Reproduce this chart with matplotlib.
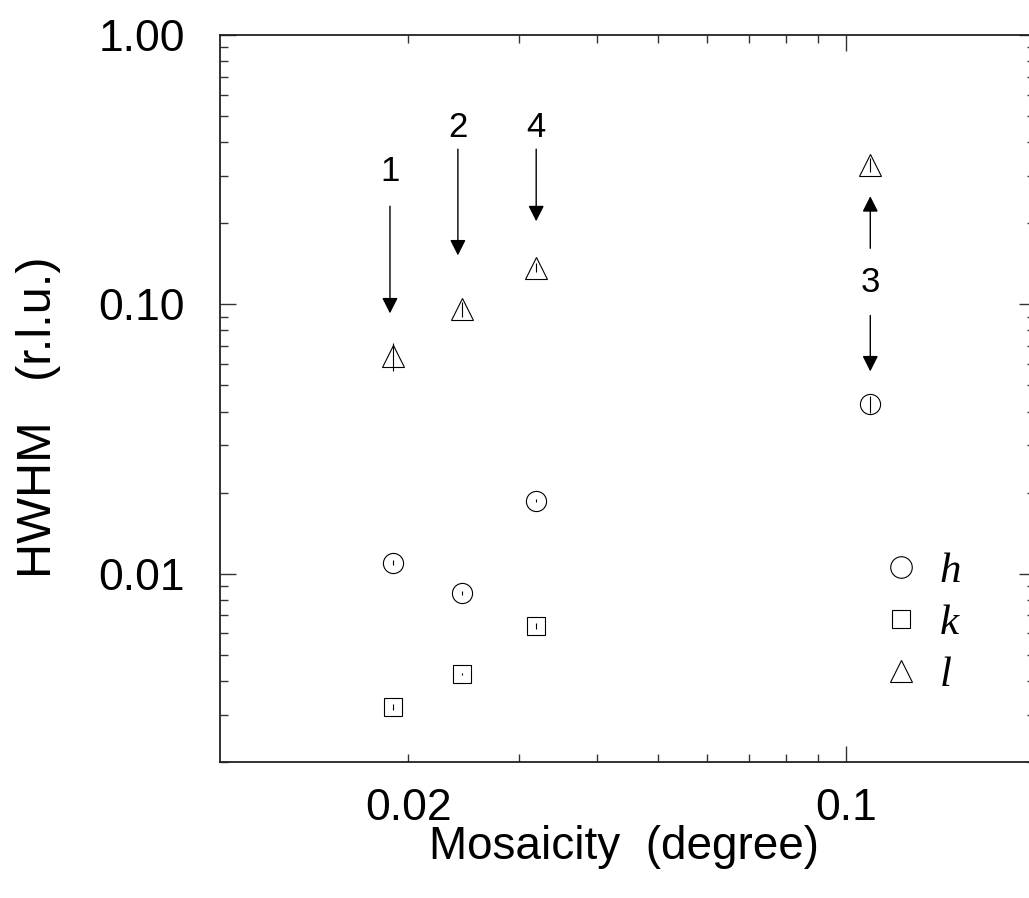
import numpy as np
import matplotlib
matplotlib.use("Agg")
import matplotlib.pyplot as plt
from matplotlib.lines import Line2D
from matplotlib.ticker import FixedLocator, FuncFormatter, NullFormatter

# sample positions (mosaicity, degree)
mosaic = [0.0189, 0.0244, 0.0320, 0.1092]
mosaic_k = [0.0189, 0.0244, 0.0320]

# HWHM (r.l.u.) and error bars
hwhm_h = [0.0110, 0.0085, 0.0187, 0.0425]
err_h = [0.0002, 0.00015, 0.0003, 0.003]
hwhm_k = [0.00320, 0.00425, 0.00641]
err_k = [0.00008, 0.00004, 0.00015]
hwhm_l = [0.0641, 0.0958, 0.137, 0.329]
err_l = [0.0075, 0.006, 0.005, 0.02]

# sample number arrows: label, x, label y, (start, tip) pairs
arrow_labels = ["1", "2", "4", "3"]
arrow_x = [0.0187, 0.0240, 0.0320, 0.1092]
label_y = [0.312, 0.455, 0.455, 0.1207]
arrow_segs = [[(0.2314, 0.0926)],
              [(0.377, 0.152)],
              [(0.377, 0.2035)],
              [(0.1615, 0.252), (0.0910, 0.0564)]]

W, H = 1029, 898
fig = plt.figure(figsize=(W / 100, H / 100), dpi=100)
plt.rcParams["font.family"] = ["Liberation Sans", "DejaVu Sans"]

x0, x1, ytop, ybot = 219.6, 1035.0, 35.0, 762.0
ax = fig.add_axes([x0 / W, 1 - ybot / H, (x1 - x0) / W, (ybot - ytop) / H])
ax.set_xscale("log")
ax.set_yscale("log")
ax.set_xlim(0.01, 0.2)
ax.set_ylim(0.002, 1.0)

ms_o, ms_s, ms_t = 14.5, 13.0, 15.5
lw = 0.8
common = dict(ls="none", color="black", mfc="none", mew=lw, elinewidth=lw, capsize=0)
ax.errorbar(mosaic, hwhm_h, yerr=err_h, marker="o", ms=ms_o, **common)
ax.errorbar(mosaic_k, hwhm_k, yerr=err_k, marker="s", ms=ms_s, **common)
ax.errorbar(mosaic, hwhm_l, yerr=err_l, marker="^", ms=ms_t, **common)

for lab, xa, ly, segs in zip(arrow_labels, arrow_x, label_y, arrow_segs):
    ax.text(xa, ly, lab, ha="center", va="center", fontsize=25)
    for start, tip in segs:
        ax.annotate("", xy=(xa, tip), xytext=(xa, start),
                    arrowprops=dict(arrowstyle="-|>,head_length=0.95,head_width=0.48",
                                    color="black", lw=1.0, mutation_scale=10,
                                    shrinkA=0, shrinkB=0))

handles = [Line2D([], [], ls="none", marker="o", ms=ms_o + 1, mfc="none", mec="black", mew=lw),
           Line2D([], [], ls="none", marker="s", ms=ms_s, mfc="none", mec="black", mew=lw),
           Line2D([], [], ls="none", marker="^", ms=ms_t + 0.5, mfc="none", mec="black", mew=lw)]
leg = ax.legend(handles, ["h", "k", "l"], loc="upper left",
                bbox_to_anchor=(879 / W, 1 - 552 / H), bbox_transform=fig.transFigure,
                frameon=False, handlelength=1.0, handletextpad=0.4, labelspacing=0.30,
                borderpad=0, borderaxespad=0,
                prop=dict(family="Liberation Serif", style="italic", size=31))

# ticks
ax.xaxis.set_major_locator(FixedLocator([0.1]))
ax.xaxis.set_minor_locator(FixedLocator([0.02, 0.03, 0.04, 0.05, 0.06, 0.07, 0.08, 0.09, 0.2]))
ax.xaxis.set_major_formatter(FuncFormatter(lambda v, p: "0.1"))
ax.xaxis.set_minor_formatter(FuncFormatter(lambda v, p: "0.02" if abs(v - 0.02) < 1e-9 else ""))
ax.yaxis.set_major_locator(FixedLocator([0.01, 0.1, 1.0]))
ax.yaxis.set_major_formatter(FuncFormatter(lambda v, p: "%.2f" % v))
ax.yaxis.set_minor_formatter(NullFormatter())

ax.tick_params(which="both", direction="in", top=True, right=True, labelsize=32,
               width=1.0, color="#333333")
ax.tick_params(axis="y", which="both", pad=25)
ax.tick_params(axis="x", which="both", pad=19)
ax.tick_params(which="major", length=11.5)
ax.tick_params(which="minor", length=5.8)
for s in ax.spines.values():
    s.set_linewidth(1.3)
    s.set_color("#222222")

ax.set_xlabel("Mosaicity  (degree)", fontsize=33, va="center")
ax.xaxis.set_label_coords(0.496, -0.117)
ax.set_ylabel("HWHM   (r.l.u.)", fontsize=35, va="center")
ax.yaxis.set_label_coords(-0.222, 0.4746)

fig.savefig("out.png", dpi=100)
